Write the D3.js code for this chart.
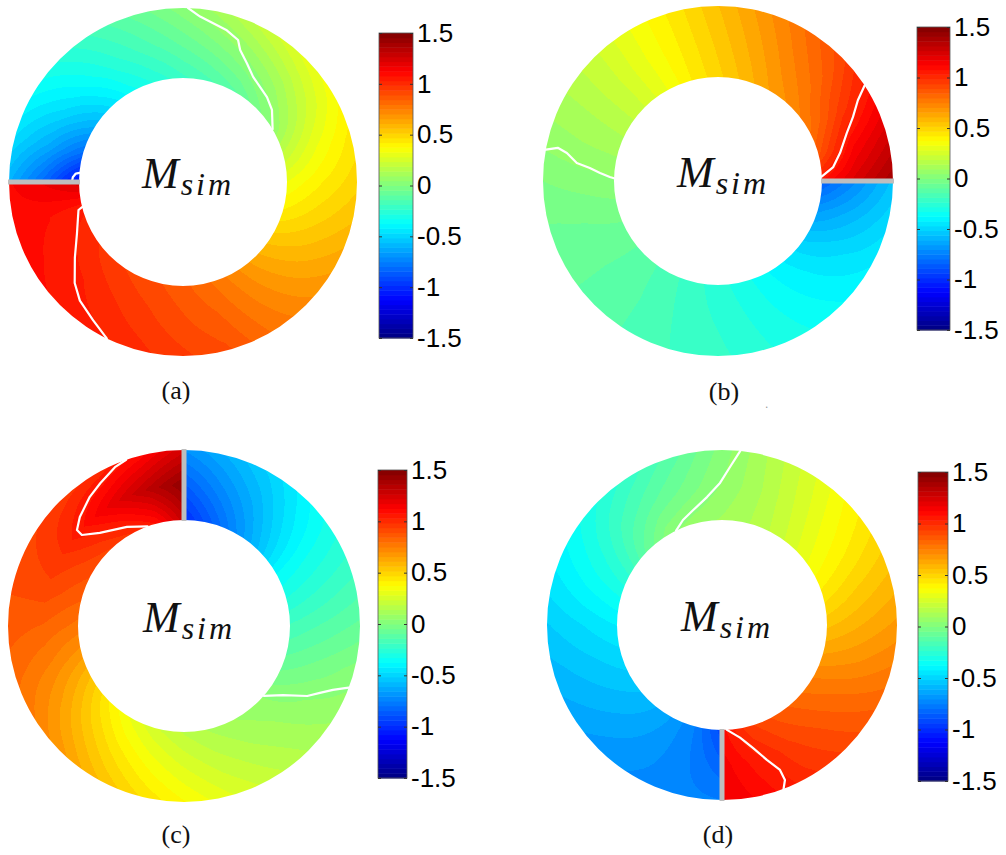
<!DOCTYPE html>
<html>
<head>
<meta charset="utf-8">
<script src="https://cdn.jsdelivr.net/npm/d3@7"></script>
<style>
  body { margin: 0; background: #fff; }
  svg { display: block; }
</style>
</head>
<body>
<svg id="fig" width="1006" height="855"></svg>
<script>
// sample angles in degrees, counted counterclockwise from the gray cut
var sAngles = d3.range(0, 361, 15);

// panel (a): values on inner edge, mid radius, outer edge
var aInner = [1.25, 1.04, 1.0, 0.96, 0.93, 0.9, 0.86, 0.8, 0.72, 0.62, 0.52, 0.42, 0.33, 0.2, 0.06, -0.02, -0.1, -0.15, -0.2, -0.27, -0.35, -0.48, -0.63, -0.82, -1.1];
var aMid   = [1.18, 1.08, 1.06, 1.03, 0.99, 0.95, 0.9, 0.85, 0.76, 0.67, 0.58, 0.5, 0.42, 0.33, 0.22, 0.13, 0.06, -0.01, -0.08, -0.16, -0.25, -0.36, -0.48, -0.62, -0.82];
var aOuter = [1.12, 1.1, 1.09, 1.07, 1.04, 1.0, 0.95, 0.9, 0.8, 0.72, 0.65, 0.57, 0.5, 0.44, 0.36, 0.3, 0.22, 0.13, 0.03, -0.07, -0.17, -0.27, -0.37, -0.47, -0.6];

// panel (b)
var bInner = [1.08, 0.88, 0.78, 0.72, 0.66, 0.58, 0.5, 0.42, 0.32, 0.23, 0.16, 0.1, 0.04, -0.02, -0.07, -0.11, -0.16, -0.21, -0.26, -0.31, -0.38, -0.45, -0.55, -0.68, -0.85];
var bMid   = [1.25, 1.12, 0.95, 0.82, 0.73, 0.63, 0.53, 0.43, 0.33, 0.23, 0.15, 0.09, 0.02, -0.04, -0.08, -0.11, -0.15, -0.2, -0.24, -0.29, -0.35, -0.41, -0.48, -0.58, -0.7];
var bOuter = [1.4, 1.25, 1.08, 0.92, 0.8, 0.68, 0.56, 0.44, 0.33, 0.22, 0.14, 0.07, 0.0, -0.05, -0.08, -0.11, -0.15, -0.19, -0.22, -0.27, -0.32, -0.37, -0.42, -0.48, -0.55];

// panel (c)
var cInner = [1.3, 1.08, 0.98, 0.93, 0.9, 0.85, 0.78, 0.68, 0.55, 0.42, 0.32, 0.24, 0.18, 0.13, 0.09, 0.06, -0.02, -0.1, -0.18, -0.28, -0.38, -0.55, -0.7, -0.85, -1.0];
var cMid   = [1.45, 1.32, 1.2, 1.08, 0.98, 0.92, 0.84, 0.76, 0.66, 0.55, 0.45, 0.36, 0.28, 0.21, 0.15, 0.1, 0.04, -0.04, -0.13, -0.23, -0.33, -0.46, -0.6, -0.72, -0.85];
var cOuter = [1.25, 1.1, 1.0, 0.96, 0.93, 0.9, 0.87, 0.82, 0.76, 0.68, 0.57, 0.47, 0.38, 0.29, 0.21, 0.14, 0.08, 0.02, -0.08, -0.18, -0.28, -0.38, -0.5, -0.6, -0.7];

// panel (d)
var dInner = [1.1, 0.95, 0.88, 0.82, 0.75, 0.65, 0.55, 0.45, 0.36, 0.28, 0.2, 0.14, 0.1, 0.07, 0.03, -0.08, -0.22, -0.33, -0.42, -0.48, -0.53, -0.58, -0.65, -0.75, -0.92];
var dMid   = [1.15, 1.05, 0.95, 0.88, 0.8, 0.7, 0.61, 0.52, 0.42, 0.33, 0.23, 0.13, 0.05, -0.03, -0.1, -0.18, -0.29, -0.38, -0.47, -0.53, -0.58, -0.63, -0.68, -0.74, -0.83];
var dOuter = [1.18, 1.1, 1.0, 0.93, 0.85, 0.76, 0.67, 0.58, 0.48, 0.38, 0.26, 0.14, 0.02, -0.1, -0.2, -0.28, -0.36, -0.44, -0.52, -0.58, -0.63, -0.68, -0.71, -0.73, -0.75];

// white contour lines: [angle from cut (deg), radial fraction 0 = inner, 1 = outer]
var aLineHigh = [[14, 0], [15, 0.06], [26, 0.2], [35, 0.4], [43, 0.63], [49, 0.76], [57, 0.87], [64, 1]];
var aLineLow  = [[268.3, 1], [264.1, 0.89], [253.9, 0.77], [248.8, 0.69], [246.6, 0.57], [241.7, 0.44], [236.3, 0.32], [225.3, 0.22], [219, 0.15], [210.5, 0]];
var aHook     = [[359.8, 0.1], [357.5, 0.09], [355.5, 0.05], [355, 0]];
var bLineHigh = [[2.5, 0], [6.9, 0.17], [13, 0.3], [20.4, 0.47], [25.4, 0.64], [30, 0.81], [33.1, 1]];
var bLineLow  = [[169.7, 1], [168.3, 0.84], [169.5, 0.7], [172.7, 0.54], [174.2, 0.35], [176.1, 0.2], [177.9, 0.06], [178.5, 0]];
var cLineHigh = [[19.2, 1], [23.5, 0.96], [30.4, 0.85], [36.1, 0.77], [43.7, 0.64], [48.1, 0.54], [48.3, 0.44], [42.1, 0.28], [29.9, 0.12], [20.1, 0]];
var cLineLow  = [[228.8, 0], [235.1, 0.21], [240.4, 0.51], [243.8, 0.65], [246.8, 0.8], [248.9, 0.95], [249.5, 1]];
var dLineHigh = [[2.7, 0], [9.1, 0.13], [14.1, 0.31], [18.4, 0.53], [21.8, 0.73], [22.1, 0.89], [20.6, 1]];
var dLineLow  = [[174, 1], [177.1, 0.76], [180.8, 0.53], [186.7, 0.34], [194.2, 0.19], [200.4, 0.1], [205.9, 0]];

// colorbar
var cbTicks = [1.5, 1, 0.5, 0, -0.5, -1, -1.5];
var cbTickLabels = ["1.5", "1", "0.5", "0", "-0.5", "-1", "-1.5"];
var panelLabels = ["(a)", "(b)", "(c)", "(d)"];

var panels = [
  { inner: aInner, mid: aMid, outer: aOuter, lines: [aLineHigh, aLineLow, aHook], cut: 180,
    cx: 183, cy: 182, ri: 104, ro: 174, bx: 379, bw: 34, by0: 33, by1: 338, lx: 176, ly: 399 },
  { inner: bInner, mid: bMid, outer: bOuter, lines: [bLineHigh, bLineLow], cut: 0,
    cx: 718, cy: 181, ri: 104, ro: 175, bx: 917, bw: 33, by0: 27, by1: 330, lx: 724, ly: 400 },
  { inner: cInner, mid: cMid, outer: cOuter, lines: [cLineHigh, cLineLow], cut: 90,
    cx: 184, cy: 626, ri: 106, ro: 176, bx: 378, bw: 29, by0: 470, by1: 778, lx: 176, ly: 843 },
  { inner: dInner, mid: dMid, outer: dOuter, lines: [dLineHigh, dLineLow], cut: 270,
    cx: 722, cy: 625, ri: 105, ro: 175, bx: 918, bw: 30, by0: 472, by1: 781, lx: 718, ly: 843 }
];

var svg = d3.select("#fig");

// jet colormap, 64 levels
var jet = d3.scaleLinear()
  .domain([-1.5, -1.125, -0.375, 0.375, 1.125, 1.5])
  .range(["#000080", "#0000ff", "#00ffff", "#ffff00", "#ff0000", "#800000"])
  .clamp(true);
var nLevels = 64;
var level = d3.scaleQuantize().domain([-1.5, 1.5]).range(d3.range(nLevels));
var levelValue = function (i) { return -1.5 + (i + 0.5) * 3 / nLevels; };
var palette = d3.range(nLevels).map(function (i) { return d3.rgb(jet(levelValue(i))); });

var toRad = Math.PI / 180;

panels.forEach(function (p, k) {
  var g = svg.append("g");

  // field, rendered per pixel into a canvas
  var fIn = d3.scaleLinear().domain(sAngles).range(p.inner);
  var fMid = d3.scaleLinear().domain(sAngles).range(p.mid);
  var fOut = d3.scaleLinear().domain(sAngles).range(p.outer);
  var rScale = d3.scaleLinear().domain([p.ri, p.ro]).range([0, 1]).clamp(true);

  var size = 2 * p.ro + 6;
  var canvas = document.createElement("canvas");
  canvas.width = size;
  canvas.height = size;
  var ctx = canvas.getContext("2d");
  var img = ctx.createImageData(size, size);
  for (var py = 0; py < size; py++) {
    for (var px = 0; px < size; px++) {
      var dx = px + 0.5 - size / 2, dy = py + 0.5 - size / 2;
      var r = Math.sqrt(dx * dx + dy * dy);
      if (r < p.ri - 3 || r > p.ro + 3) continue;
      var phi = Math.atan2(-dy, dx) / toRad;
      var s = ((phi - p.cut) % 360 + 720) % 360;
      var rf = rScale(r);
      var vi = fIn(s), vm = fMid(s), vo = fOut(s);
      var v = rf < 0.5 ? vi + (vm - vi) * rf * 2 : vm + (vo - vm) * (rf - 0.5) * 2;
      var c = palette[level(Math.max(-1.5, Math.min(1.499, v)))];
      var o = (py * size + px) * 4;
      img.data[o] = c.r; img.data[o + 1] = c.g; img.data[o + 2] = c.b; img.data[o + 3] = 255;
    }
  }
  ctx.putImageData(img, 0, 0);

  var ring = d3.arc()({ innerRadius: p.ri, outerRadius: p.ro, startAngle: 0, endAngle: 2 * Math.PI });
  svg.append("clipPath").attr("id", "ring" + k)
    .append("path")
    .attr("transform", "translate(" + p.cx + "," + p.cy + ")")
    .attr("d", ring);

  g.append("image")
    .attr("href", canvas.toDataURL())
    .attr("x", p.cx - size / 2)
    .attr("y", p.cy - size / 2)
    .attr("width", size)
    .attr("height", size)
    .attr("clip-path", "url(#ring" + k + ")");

  // white contour lines
  var radial = d3.lineRadial()
    .angle(function (d) { return (90 - (p.cut + d[0])) * toRad; })
    .radius(function (d) { return p.ri + d[1] * (p.ro - p.ri); });
  g.append("g")
    .attr("transform", "translate(" + p.cx + "," + p.cy + ")")
    .selectAll("path")
    .data(p.lines)
    .enter().append("path")
    .attr("d", radial)
    .attr("fill", "none")
    .attr("stroke", "#fff")
    .attr("stroke-width", 2.2)
    .attr("stroke-linejoin", "round")
    .attr("stroke-linecap", "round");

  // gray cut
  g.append("line")
    .attr("x1", p.cx + (p.ri - 1) * Math.cos(p.cut * toRad))
    .attr("y1", p.cy - (p.ri - 1) * Math.sin(p.cut * toRad))
    .attr("x2", p.cx + (p.ro + 1) * Math.cos(p.cut * toRad))
    .attr("y2", p.cy - (p.ro + 1) * Math.sin(p.cut * toRad))
    .attr("stroke", "#bebebe")
    .attr("stroke-width", 5);

  // center label M_sim
  var t = g.append("text")
    .attr("x", p.cx - 41)
    .attr("y", p.cy + 6)
    .attr("font-family", "'Liberation Serif', 'DejaVu Serif', serif")
    .attr("font-style", "italic")
    .attr("fill", "#111");
  t.append("tspan").attr("font-size", "44px").text("M");
  t.append("tspan").attr("font-size", "32px").attr("dy", 7).attr("dx", 2)
    .attr("letter-spacing", "3px").text("sim");

  // colorbar
  var y = d3.scaleLinear().domain([-1.5, 1.5]).range([p.by1, p.by0]);
  var cb = g.append("g");
  cb.selectAll("rect")
    .data(d3.range(nLevels))
    .enter().append("rect")
    .attr("x", p.bx)
    .attr("width", p.bw)
    .attr("y", function (i) { return y(levelValue(i) + 1.5 / nLevels); })
    .attr("height", function (i) { return y(levelValue(i) - 1.5 / nLevels) - y(levelValue(i) + 1.5 / nLevels) + 0.5; })
    .attr("fill", function (i) { return palette[i]; });
  cb.append("rect")
    .attr("x", p.bx).attr("y", p.by0)
    .attr("width", p.bw).attr("height", p.by1 - p.by0)
    .attr("fill", "none").attr("stroke", "#555").attr("stroke-width", 0.8);

  var axisR = d3.axisRight(y)
    .tickValues(cbTicks)
    .tickSize(-3)
    .tickPadding(4)
    .tickFormat(function (d, i) { return cbTickLabels[i]; });
  var ax = cb.append("g")
    .attr("transform", "translate(" + (p.bx + p.bw) + ",0)")
    .call(axisR);
  ax.select(".domain").remove();
  ax.selectAll(".tick line").attr("stroke", "#333");
  ax.selectAll(".tick text")
    .attr("font-family", "'Liberation Sans', Arial, sans-serif")
    .attr("font-size", "26px")
    .attr("fill", "#000");

  var axisL = d3.axisLeft(y).tickValues(cbTicks).tickSize(-3).tickFormat("");
  var axl = cb.append("g")
    .attr("transform", "translate(" + p.bx + ",0)")
    .call(axisL);
  axl.select(".domain").remove();
  axl.selectAll(".tick line").attr("stroke", "#333");

  // panel label
  svg.append("text")
    .attr("x", p.lx)
    .attr("y", p.ly)
    .attr("text-anchor", "middle")
    .attr("font-family", "'Liberation Serif', 'Times New Roman', serif")
    .attr("font-size", "26px")
    .attr("fill", "#111")
    .text(panelLabels[k]);
});

// small stray mark next to (b)
svg.append("text")
  .attr("x", 765).attr("y", 408)
  .attr("font-family", "'Liberation Sans', sans-serif")
  .attr("font-size", "12px")
  .attr("fill", "#999")
  .text(".");
</script>
</body>
</html>
